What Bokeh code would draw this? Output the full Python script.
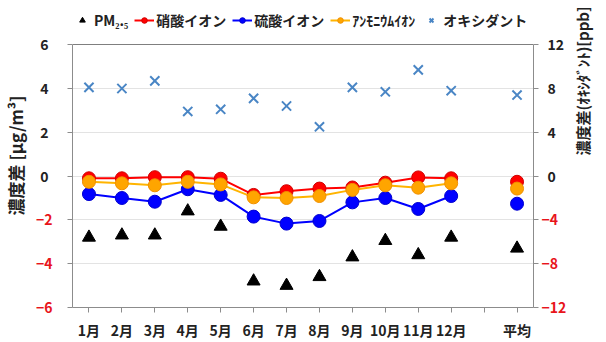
from bokeh.plotting import figure
from bokeh.models import (Range1d, LinearAxis, FixedTicker, Legend, LegendItem,
                          FactorRange, Grid)
from bokeh.embed import file_html
from bokeh.resources import INLINE

# categories: 12 months, a spacer slot, then the annual average
months = ["1月", "2月", "3月", "4月", "5月", "6月", "7月", "8月", "9月", "10月", "11月", "12月"]
spacer = " "
avg_label = "平均"

# concentration differences [ug/m3]
pm25 = [-2.8, -2.7, -2.7, -1.6, -2.3, -4.8, -5.0, -4.6, -3.7, -2.95, -3.6, -2.8]
pm25_avg = -3.3
nitrate = [-0.1, -0.1, -0.05, -0.05, -0.12, -0.86, -0.69, -0.57, -0.52, -0.3, -0.06, -0.1]
nitrate_avg = -0.26
sulfate = [-0.82, -1.0, -1.17, -0.6, -0.86, -1.85, -2.17, -2.05, -1.2, -1.0, -1.5, -0.91]
sulfate_avg = -1.26
ammonium = [-0.26, -0.33, -0.42, -0.26, -0.38, -0.97, -1.0, -0.91, -0.63, -0.42, -0.53, -0.33]
ammonium_avg = -0.57
# oxidant difference [ppb], right axis
oxidant = [8.1, 8.0, 8.7, 5.9, 6.1, 7.1, 6.4, 4.5, 8.1, 7.7, 9.7, 7.8]
oxidant_avg = 7.4

left_pos_ticks = [0, 2, 4, 6]
left_neg_ticks = [-6, -4, -2]
right_pos_ticks = [0, 4, 8, 12]
right_neg_ticks = [-12, -8, -4]
LEFT_LIM = (-6, 6)
RIGHT_LIM = (-12, 12)

FONT = "Noto Sans CJK JP"
TXT = "#222222"
RED = "#FF0000"
BLUE = "#0000FF"
ORANGE = "#FFA500"
ORANGE_LINE = "#FFB400"
OX = "#4A86C5"
NEG = "#E8141B"
AXIS = "#8C8C8C"

factors = months + [spacer, avg_label]

# plot box is 268 px tall for the -6..6 span; the frame also keeps a 42 px
# strip above it for the legend
px_per_unit = 268 / (LEFT_LIM[1] - LEFT_LIM[0])
top_extra = 42 / px_per_unit

p = figure(width=606, height=342, x_range=FactorRange(*factors),
           y_range=Range1d(LEFT_LIM[0], LEFT_LIM[1] + top_extra),
           output_backend="svg", toolbar_location=None,
           min_border_left=72, min_border_right=66, min_border_top=3,
           min_border_bottom=29)
p.extra_y_ranges = {"ppb": Range1d(RIGHT_LIM[0], RIGHT_LIM[1] + 2 * top_extra)}
p.background_fill_color = "white"
p.border_fill_color = "white"
p.outline_line_color = None

# grid: light lines inside, darker line closing the box at the top
p.xgrid.grid_line_color = None
p.ygrid.grid_line_color = "#E3E3E3"
p.ygrid.ticker = FixedTicker(ticks=[-4, -2, 0, 2, 4])
p.add_layout(Grid(dimension=1, ticker=FixedTicker(ticks=[LEFT_LIM[1]]),
                  grid_line_color="#7F7F7F", grid_line_width=1.2))


def style_labels(ax, color, size="14px"):
    ax.major_label_text_font = FONT
    ax.major_label_text_font_style = "bold"
    ax.major_label_text_font_size = size
    ax.major_label_text_color = color


def style_title(ax, size="17px"):
    ax.axis_label_text_font = FONT
    ax.axis_label_text_font_style = "bold"
    ax.axis_label_text_font_size = size
    ax.axis_label_text_color = TXT


# x axis
xa = p.xaxis[0]
xa.axis_line_color = AXIS
xa.major_tick_line_color = AXIS
xa.major_tick_out = 5
xa.major_tick_in = 0
style_labels(xa, TXT)
xa.major_label_standoff = 7

# inner left axis: line, ticks and the red negative labels
ya = p.yaxis[0]
ya.bounds = LEFT_LIM
ya.ticker = FixedTicker(ticks=left_neg_ticks + left_pos_ticks)
ya.major_label_overrides = {t: "" for t in left_pos_ticks}
ya.axis_line_color = AXIS
ya.major_tick_line_color = AXIS
ya.major_tick_out = 5
ya.major_tick_in = 0
ya.minor_tick_line_color = None
style_labels(ya, NEG)
ya.major_label_standoff = 15

# outer left axis: black labels for the non-negative ticks and the title,
# pulled back so the labels line up with the red ones
ya_pos = LinearAxis(ticker=FixedTicker(ticks=left_pos_ticks), bounds=LEFT_LIM)
ya_pos.axis_line_color = None
ya_pos.major_tick_line_color = None
ya_pos.minor_tick_line_color = None
ya_pos.major_tick_out = 0
ya_pos.major_tick_in = 0
style_labels(ya_pos, TXT)
ya_pos.major_label_standoff = -16
ya_pos.axis_label = "濃度差 [μg/m³]"
style_title(ya_pos)
ya_pos.axis_label_standoff = 9
p.add_layout(ya_pos, "left")

# inner right axis (oxidant, ppb): line, ticks and red negative labels
ra = LinearAxis(y_range_name="ppb", bounds=RIGHT_LIM,
                ticker=FixedTicker(ticks=right_neg_ticks + right_pos_ticks))
ra.major_label_overrides = {t: "" for t in right_pos_ticks}
ra.axis_line_color = AXIS
ra.major_tick_line_color = AXIS
ra.major_tick_out = 5
ra.major_tick_in = 0
ra.minor_tick_line_color = None
style_labels(ra, NEG)
ra.major_label_standoff = 3
p.add_layout(ra, "right")

# outer right axis: black labels and the title (reading upwards)
ra_pos = LinearAxis(y_range_name="ppb", bounds=RIGHT_LIM,
                    ticker=FixedTicker(ticks=right_pos_ticks))
ra_pos.axis_line_color = None
ra_pos.major_tick_line_color = None
ra_pos.minor_tick_line_color = None
ra_pos.major_tick_out = 0
ra_pos.major_tick_in = 0
style_labels(ra_pos, TXT)
ra_pos.major_label_standoff = -22
ra_pos.axis_label = "濃度差(ｵｷｼﾀﾞﾝﾄ)[ppb]"
style_title(ra_pos, "15px")
ra_pos.axis_label_standoff = 15
ra_pos.axis_label_orientation = 1.5707963267948966
p.add_layout(ra_pos, "right")

# oxidant crosses (right axis)
ox_r = p.scatter(months + [avg_label], oxidant + [oxidant_avg], marker="x", size=13,
                 line_width=2, color=OX, y_range_name="ppb")

# PM2.5 triangles
pm_r = p.scatter(months + [avg_label], pm25 + [pm25_avg], marker="triangle", size=13,
                 color="black")

# ion series: monthly lines plus separate average points
ni_l = p.line(months, nitrate, line_color=RED, line_width=2)
ni_c = p.scatter(months + [avg_label], nitrate + [nitrate_avg], marker="circle", size=13,
                 fill_color=RED, line_color="#D00000")
su_l = p.line(months, sulfate, line_color=BLUE, line_width=2)
su_c = p.scatter(months + [avg_label], sulfate + [sulfate_avg], marker="circle", size=13,
                 fill_color=BLUE, line_color="#0000D0")
am_l = p.line(months, ammonium, line_color=ORANGE_LINE, line_width=2)
am_c = p.scatter(months + [avg_label], ammonium + [ammonium_avg], marker="circle", size=13,
                 fill_color=ORANGE, line_color="#F09000")

legend = Legend(items=[
    LegendItem(label="PM₂.₅", renderers=[pm_r]),
    LegendItem(label="硝酸イオン", renderers=[ni_l, ni_c]),
    LegendItem(label="硫酸イオン", renderers=[su_l, su_c]),
    LegendItem(label="ｱﾝﾓﾆｳﾑｲｵﾝ", renderers=[am_l, am_c]),
    LegendItem(label="オキシダント", renderers=[ox_r]),
], orientation="horizontal", location=(0, 277))
legend.label_text_font = FONT
legend.label_text_font_style = "bold"
legend.label_text_font_size = "14px"
legend.label_text_color = TXT
legend.glyph_width = 20
legend.glyph_height = 14
legend.label_standoff = 2
legend.spacing = 6
legend.padding = 0
legend.margin = 0
legend.border_line_color = None
legend.background_fill_alpha = 0
p.add_layout(legend)

open("out.html", "w").write(file_html(p, INLINE))
